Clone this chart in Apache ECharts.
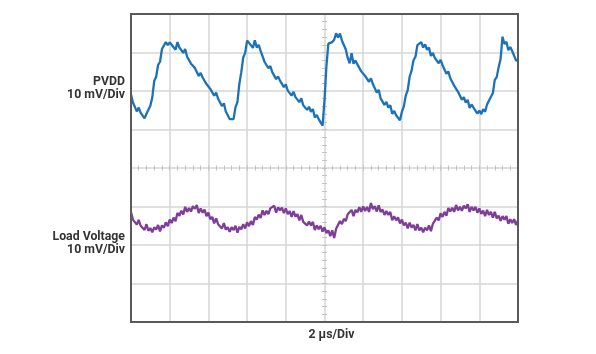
<!DOCTYPE html>
<html>
<head>
<meta charset="utf-8">
<script src="https://cdn.jsdelivr.net/npm/echarts@6/dist/echarts.min.js"></script>
<style>
  html, body { margin: 0; padding: 0; background: #fff; }
  #chart { width: 596px; height: 354px; }
</style>
</head>
<body>
<div id="chart"></div>
<script>
// scope capture, one sample every 0.1 µs over 10 divisions (2 µs/div)
const timeStep = 0.1;
const timeMin = 0;
const timeMax = 20;
const voltMin = -40;
const voltMax = 40;

// PVDD trace, mV (10 mV/div)
const pvdd = [
  19.1, 17.0, 16.8, 14.7, 15.7, 14.3, 14.5, 12.9, 14.1, 13.6,
  16.2, 18.3, 22.6, 23.7, 26.8, 27.6, 30.9, 31.4, 32.7, 31.9,
  32.6, 32.0, 32.3, 30.7, 32.7, 31.3, 31.5, 29.9, 30.9, 28.9,
  28.7, 27.1, 27.6, 26.0, 26.3, 23.9, 24.7, 23.5, 23.7, 21.8,
  22.3, 20.5, 20.6, 18.8, 19.6, 18.0, 18.0, 16.1, 16.8, 14.7,
  14.5, 12.7, 13.2, 12.7, 15.8, 17.1, 21.9, 24.9, 28.7, 29.9,
  33.1, 32.5, 32.8, 31.2, 33.2, 31.3, 32.0, 30.4, 30.7, 27.6,
  27.5, 25.9, 26.5, 24.9, 25.4, 23.1, 23.8, 22.7, 22.9, 21.0,
  21.7, 20.1, 20.4, 18.8, 19.8, 18.4, 18.6, 17.1, 18.1, 16.3,
  16.4, 15.1, 15.9, 14.6, 15.3, 13.1, 13.8, 12.7, 12.9, 11.0,
  17.6, 26.5, 32.3, 32.2, 32.7, 33.3, 35.0, 33.9, 34.9, 33.1,
  32.7, 30.8, 28.6, 27.2, 29.8, 27.1, 27.9, 26.9, 27.0, 25.1,
  25.6, 23.9, 24.1, 22.4, 23.3, 21.8, 21.6, 19.6, 20.3, 18.1,
  17.9, 16.4, 17.2, 15.7, 16.3, 14.1, 14.8, 13.7, 13.9, 12.4,
  14.6, 16.0, 18.8, 20.2, 23.7, 25.3, 28.0, 28.9, 31.9, 31.6,
  32.7, 31.3, 32.1, 30.7, 31.3, 29.1, 29.9, 28.6, 28.7, 27.2,
  28.1, 26.7, 26.5, 24.5, 25.1, 23.3, 23.4, 21.4, 21.9, 19.8,
  19.5, 17.7, 18.4, 17.0, 17.7, 15.6, 16.5, 15.7, 15.9, 14.1,
  14.9, 14.0, 15.3, 14.6, 16.5, 16.3, 18.5, 19.4, 22.9, 23.6,
  26.2, 28.3, 34.1, 32.2, 32.8, 30.6, 31.4, 30.4, 30.2, 27.9,
  28.1
];

// Load voltage trace, mV (10 mV/div)
const loadVoltage = [
  -11.5, -13.4, -12.9, -14.7, -13.5, -15.0, -14.5, -16.1, -14.6, -16.3,
  -15.6, -16.7, -15.4, -16.0, -14.8, -16.5, -14.9, -15.5, -14.1, -15.1,
  -13.4, -14.3, -12.9, -13.8, -11.7, -12.4, -11.1, -12.1, -10.1, -11.4,
  -10.4, -11.3, -9.9, -10.6, -9.6, -11.7, -10.5, -11.6, -10.8, -12.5,
  -11.6, -13.3, -12.7, -14.4, -13.1, -14.6, -14.1, -15.7, -14.3, -16.0,
  -15.4, -16.6, -15.4, -16.1, -15.0, -16.8, -15.3, -15.9, -14.6, -15.7,
  -14.1, -15.1, -13.8, -14.8, -12.7, -13.4, -12.1, -13.0, -11.0, -12.2,
  -11.1, -12.0, -10.5, -11.0, -9.8, -11.6, -10.2, -11.0, -10.3, -11.7,
  -10.5, -12.0, -11.2, -12.7, -11.2, -12.6, -12.0, -13.6, -12.2, -14.0,
  -13.5, -14.9, -13.9, -14.9, -14.0, -16.1, -14.9, -15.9, -15.0, -16.5,
  -15.4, -16.9, -16.2, -17.7, -16.2, -18.2, -15.8, -16.3, -13.8, -14.6,
  -13.2, -13.8, -12.0, -12.3, -10.9, -12.5, -10.9, -11.5, -10.2, -11.4,
  -10.0, -11.2, -10.1, -11.4, -9.1, -10.7, -9.9, -11.3, -9.7, -11.4,
  -10.8, -12.2, -11.2, -12.2, -11.4, -13.6, -12.5, -13.6, -12.8, -14.4,
  -13.4, -14.9, -14.2, -15.7, -14.2, -15.5, -14.8, -16.2, -14.6, -16.2,
  -15.5, -16.7, -15.5, -16.2, -14.9, -16.4, -14.5, -14.7, -12.9, -13.6,
  -11.8, -12.7, -11.4, -12.4, -10.4, -11.3, -10.3, -11.4, -9.6, -11.0,
  -10.1, -11.1, -9.8, -10.5, -9.4, -11.4, -10.1, -11.0, -10.1, -11.6,
  -10.5, -11.9, -11.1, -12.5, -10.9, -12.2, -11.4, -12.9, -11.4, -13.1,
  -12.4, -13.7, -12.5, -13.4, -12.5, -14.5, -13.3, -14.3, -13.3, -14.8,
  -13.6
];

const channelLabels = ['PVDD\n10 mV/Div', 'Load Voltage\n10 mV/Div'];
const timeLabel = '2 µs/Div';

const gridColor = '#d6d6d6';
const textColor = '#333333';
const labelFont = 'bold 12.3px Roboto';

function toPairs(values) {
  return values.map(function (v, i) {
    return [+(timeMin + i * timeStep).toFixed(2), v];
  });
}

// small cross ticks on the centre graticule lines
function centreTickAxis(isX, inside) {
  return {
    type: 'value',
    min: isX ? timeMin : voltMin,
    max: isX ? timeMax : voltMax,
    interval: isX ? 0.4 : 2,
    position: isX ? 'bottom' : 'left',
    offset: isX ? -154 : -193.5,
    axisLine: { show: false },
    axisTick: {
      show: true,
      inside: inside,
      length: 2.5,
      lineStyle: { color: '#c2c2c2', width: 1 }
    },
    axisLabel: { show: false },
    splitLine: { show: false }
  };
}

var chart = echarts.init(document.getElementById('chart'), null, { renderer: 'canvas' });

var option = {
  animation: false,
  backgroundColor: '#ffffff',
  grid: {
    left: 131,
    top: 14,
    width: 387,
    height: 308
  },
  xAxis: [
    {
      type: 'value',
      min: timeMin,
      max: timeMax,
      interval: 2,
      axisLine: { show: false },
      axisTick: { show: false },
      axisLabel: { show: false },
      splitLine: { show: true, lineStyle: { color: gridColor, width: 1.5 } },
      name: timeLabel,
      nameLocation: 'middle',
      nameGap: 7,
      nameTextStyle: {
        color: textColor,
        fontFamily: 'Roboto',
        fontWeight: 'bold',
        fontSize: 12.3,
        verticalAlign: 'top',
        padding: [0, 0, 0, 14]
      }
    },
    centreTickAxis(true, true),
    centreTickAxis(true, false)
  ],
  yAxis: [
    {
      type: 'value',
      min: voltMin,
      max: voltMax,
      interval: 10,
      axisLine: { show: false },
      axisTick: { show: false },
      axisLabel: { show: false },
      splitLine: { show: true, lineStyle: { color: gridColor, width: 1.5 } }
    },
    centreTickAxis(false, true),
    centreTickAxis(false, false)
  ],
  graphic: [
    {
      // screen frame
      type: 'rect',
      z: 100,
      silent: true,
      shape: { x: 131, y: 14, width: 387, height: 308 },
      style: { fill: 'none', stroke: '#5a5a5a', lineWidth: 2 }
    },
    {
      type: 'text',
      right: 596 - 125,
      top: 75,
      style: {
        text: channelLabels[0],
        fill: textColor,
        font: labelFont,
        textAlign: 'right',
        lineHeight: 13.5
      }
    },
    {
      type: 'text',
      right: 596 - 125,
      top: 230,
      style: {
        text: channelLabels[1],
        fill: textColor,
        font: labelFont,
        textAlign: 'right',
        lineHeight: 13.5
      }
    }
  ],
  series: [
    {
      name: 'PVDD',
      type: 'line',
      data: toPairs(pvdd),
      showSymbol: false,
      lineStyle: { color: '#1c72b8', width: 2.3 },
      itemStyle: { color: '#1c72b8' },
      z: 5
    },
    {
      name: 'Load Voltage',
      type: 'line',
      data: toPairs(loadVoltage),
      showSymbol: false,
      lineStyle: { color: '#7e3d99', width: 2.3 },
      itemStyle: { color: '#7e3d99' },
      z: 5
    }
  ]
};

chart.setOption(option);
</script>
</body>
</html>
